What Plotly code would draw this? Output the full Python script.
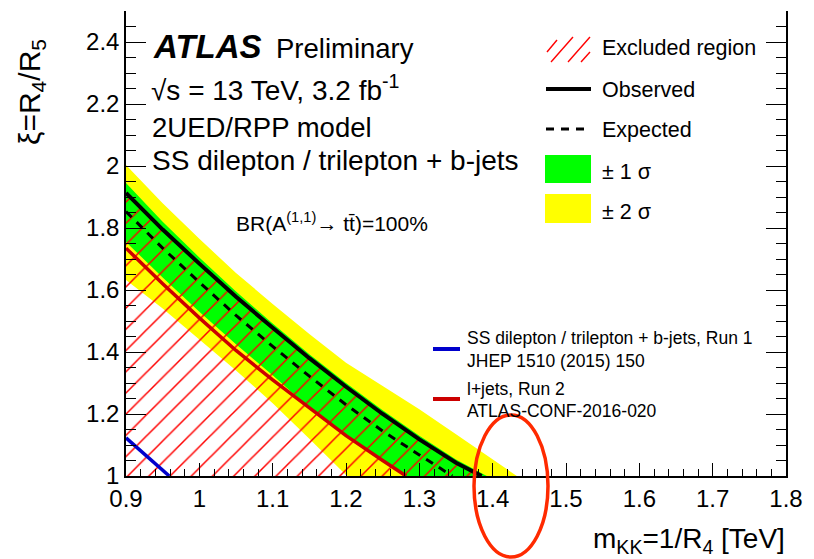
import plotly.graph_objects as go

# ---------------- data ----------------
# observed 95% CL limit
obs_mkk = [0.90, 0.95, 1.00, 1.05, 1.10, 1.15, 1.20, 1.25, 1.30, 1.35, 1.385]
obs_xi = [1.913, 1.795, 1.685, 1.578, 1.478, 1.380, 1.288, 1.200, 1.118, 1.043, 1.000]

# expected limit
exp_mkk = [0.90, 0.95, 1.00, 1.05, 1.10, 1.15, 1.20, 1.25, 1.30, 1.345]
exp_xi = [1.853, 1.735, 1.625, 1.518, 1.418, 1.322, 1.230, 1.145, 1.068, 1.000]

# +-1 sigma band edges
s1_up_mkk = [0.90, 0.95, 1.00, 1.05, 1.10, 1.15, 1.20, 1.25, 1.30, 1.35, 1.392]
s1_up_xi = [1.945, 1.820, 1.705, 1.595, 1.492, 1.393, 1.300, 1.212, 1.130, 1.053, 1.000]
s1_lo_mkk = [0.90, 0.95, 1.00, 1.05, 1.10, 1.15, 1.20, 1.25, 1.28]
s1_lo_xi = [1.755, 1.640, 1.530, 1.425, 1.325, 1.220, 1.130, 1.048, 1.000]

# +-2 sigma band edges
s2_up_mkk = [0.90, 0.95, 1.00, 1.05, 1.10, 1.15, 1.20, 1.25, 1.30, 1.35, 1.40, 1.433]
s2_up_xi = [2.003, 1.880, 1.765, 1.655, 1.555, 1.458, 1.365, 1.290, 1.215, 1.135, 1.055, 1.000]
s2_lo_mkk = [0.90, 0.95, 1.00, 1.05, 1.10, 1.15, 1.20, 1.202]
s2_lo_xi = [1.632, 1.540, 1.440, 1.340, 1.235, 1.120, 1.003, 1.000]

# previous results
run2_ljets_mkk = [0.90, 0.95, 1.00, 1.05, 1.10, 1.15, 1.20, 1.25, 1.282]
run2_ljets_xi = [1.735, 1.620, 1.510, 1.405, 1.310, 1.220, 1.130, 1.050, 1.000]
run1_ss_mkk = [0.90, 0.959]
run1_ss_xi = [1.123, 1.000]

x_tickvals = [0.9, 1.0, 1.1, 1.2, 1.3, 1.4, 1.5, 1.6, 1.7, 1.8]
x_ticktext = ["0.9", "1", "1.1", "1.2", "1.3", "1.4", "1.5", "1.6", "1.7", "1.8"]
y_tickvals = [1.0, 1.2, 1.4, 1.6, 1.8, 2.0, 2.2, 2.4]
y_ticktext = ["1", "1.2", "1.4", "1.6", "1.8", "2", "2.2", "2.4"]

X_RANGE = [0.9, 1.8]
Y_RANGE = [1.0, 2.5]

FONT = "Liberation Sans, Arial, Helvetica, sans-serif"
W, H = 814, 559
ML, MR, MT, MB = 126, 28, 11, 83
PW, PH = W - ML - MR, H - MT - MB


def px(xp):
    return (xp - ML) / PW


def py(yp):
    return (H - MB - yp) / PH


fig = go.Figure()

# +-2 sigma band
fig.add_trace(go.Scatter(
    x=s2_up_mkk + s2_lo_mkk[::-1], y=s2_up_xi + s2_lo_xi[::-1],
    fill="toself", fillcolor="#ffff00", line=dict(width=0),
    mode="lines", hoverinfo="skip", showlegend=False))
# +-1 sigma band
fig.add_trace(go.Scatter(
    x=s1_up_mkk + s1_lo_mkk[::-1], y=s1_up_xi + s1_lo_xi[::-1],
    fill="toself", fillcolor="#00ff00", line=dict(width=0),
    mode="lines", hoverinfo="skip", showlegend=False))
# excluded region (hatched, below the observed limit)
fig.add_trace(go.Scatter(
    x=obs_mkk + [obs_mkk[0]], y=obs_xi + [Y_RANGE[0]],
    fill="toself", fillcolor="rgba(0,0,0,0)",
    fillpattern=dict(shape="/", fgcolor="#ff0000", fgopacity=1,
                     bgcolor="rgba(0,0,0,0)", size=15, solidity=0.1),
    line=dict(width=0), mode="lines", hoverinfo="skip", showlegend=False))
# l+jets Run 2
fig.add_trace(go.Scatter(
    x=run2_ljets_mkk, y=run2_ljets_xi, mode="lines",
    line=dict(color="#cc0000", width=3.5), showlegend=False))
# SS dilepton Run 1
fig.add_trace(go.Scatter(
    x=run1_ss_mkk, y=run1_ss_xi, mode="lines",
    line=dict(color="#0000cc", width=3.5), showlegend=False))
# expected
fig.add_trace(go.Scatter(
    x=exp_mkk, y=exp_xi, mode="lines",
    line=dict(color="black", width=3, dash="8px,7px"), showlegend=False))
# observed
fig.add_trace(go.Scatter(
    x=obs_mkk, y=obs_xi, mode="lines",
    line=dict(color="black", width=4), showlegend=False))

axis_common = dict(
    showgrid=False, zeroline=False, showline=True, linecolor="black",
    linewidth=1.5, ticks="inside", tickcolor="black", tickwidth=1.3,
    tickfont=dict(family=FONT, size=24, color="black"),
)
x_minor = [round(0.9 + 0.02 * i, 2) for i in range(46)]
y_minor = [round(1.0 + 0.05 * i, 2) for i in range(31)]

fig.update_layout(
    width=W, height=H,
    margin=dict(l=ML, r=MR, t=MT, b=MB, pad=0),
    paper_bgcolor="white", plot_bgcolor="white",
    showlegend=False,
    xaxis=dict(range=X_RANGE, tickvals=x_tickvals, ticktext=x_ticktext,
               ticklen=13,
               minor=dict(tickvals=x_minor, ticks="inside", ticklen=7,
                          tickcolor="black", tickwidth=1.2),
               **axis_common),
    xaxis2=dict(range=X_RANGE, overlaying="x", side="top", anchor="y",
                tickvals=x_tickvals, showticklabels=False, ticklen=6,
                showgrid=False, zeroline=False, showline=True, linecolor="black",
                linewidth=1.5, ticks="inside", tickcolor="black", tickwidth=1.3),
    yaxis=dict(range=Y_RANGE, tickvals=y_tickvals, ticktext=y_ticktext,
               ticklen=20, mirror="ticks",
               minor=dict(tickvals=y_minor, ticks="inside", ticklen=10,
                          tickcolor="black", tickwidth=1.2),
               **axis_common),
)

shapes = []
annotations = []


def text(x, y, s, size, anchor="left", color="black"):
    annotations.append(dict(
        xref="paper", yref="paper", x=px(x), y=py(y), text=s, showarrow=False,
        xanchor=anchor, yanchor="middle",
        font=dict(family=FONT, size=size, color=color)))


# header texts
text(151, 47, "<b><i>ATLAS</i></b>", 33)
text(274, 48, "Preliminary", 27.5)
text(149, 88, "\u221As = 13 TeV, 3.2 fb<sup>-1</sup>", 28)
text(150, 127, "2UED/RPP model", 27.5)
text(150, 160, "SS dilepton / trilepton + b-jets", 28)
text(234, 222, "BR(A<sup>(1,1)</sup>\u2192 tt\u0304)=100%", 21)

# main legend
text(600, 48, "Excluded region", 21.5)
text(600, 90, "Observed", 21.5)
text(600, 130, "Expected", 21.5)
text(600, 172, "\u00b1 1 \u03c3", 21.5)
text(600, 212, "\u00b1 2 \u03c3", 21.5)

# hatch swatch: diagonal strokes
for (xa, ya, xb, yb) in [(547, 52, 557, 40), (551, 62, 573, 37), (568, 62, 590, 37), (581, 62, 590, 52)]:
    shapes.append(dict(type="line", xref="paper", yref="paper",
                       x0=px(xa), y0=py(ya), x1=px(xb), y1=py(yb),
                       line=dict(color="#ff0000", width=1.4)))
shapes.append(dict(type="line", xref="paper", yref="paper",
                   x0=px(546), y0=py(89), x1=px(591), y1=py(89),
                   line=dict(color="black", width=4)))
shapes.append(dict(type="line", xref="paper", yref="paper",
                   x0=px(546), y0=py(129), x1=px(585), y1=py(129),
                   line=dict(color="black", width=3, dash="8px,7px")))
shapes.append(dict(type="rect", xref="paper", yref="paper",
                   x0=px(545), y0=py(183), x1=px(591), y1=py(155),
                   fillcolor="#00ff00", line=dict(width=0)))
shapes.append(dict(type="rect", xref="paper", yref="paper",
                   x0=px(545), y0=py(223), x1=px(591), y1=py(194),
                   fillcolor="#ffff00", line=dict(width=0)))

# previous-results legend
shapes.append(dict(type="line", xref="paper", yref="paper",
                   x0=px(433), y0=py(349), x1=px(460), y1=py(349),
                   line=dict(color="#0000cc", width=4)))
shapes.append(dict(type="line", xref="paper", yref="paper",
                   x0=px(433), y0=py(399), x1=px(460), y1=py(399),
                   line=dict(color="#cc0000", width=4)))
text(465, 338, "SS dilepton / trilepton + b-jets, Run 1", 17.5)
text(465, 361, "JHEP 1510 (2015) 150", 17.5)
text(465, 389, "l+jets, Run 2", 17.5)
text(465, 411, "ATLAS-CONF-2016-020", 17.5)

# axis titles
annotations.append(dict(
    xref="paper", yref="paper", x=px(31), y=py(92), textangle=-90,
    text="\u03be=R<sub>4</sub>/R<sub>5</sub>", showarrow=False,
    xanchor="center", yanchor="middle", font=dict(family=FONT, size=30, color="black")))
annotations.append(dict(
    xref="paper", yref="paper", x=px(787), y=py(540),
    text="m<sub>KK</sub>=1/R<sub>4</sub> [TeV]", showarrow=False,
    xanchor="right", yanchor="middle", font=dict(family=FONT, size=28, color="black")))

# highlight ellipse around the mass reach
shapes.append(dict(type="circle", xref="paper", yref="paper",
                   x0=px(474), x1=px(548), y0=py(557), y1=py(415),
                   line=dict(color="#ff2a00", width=3.5)))

fig.update_layout(shapes=shapes, annotations=annotations)
fig.write_html("out.html")
